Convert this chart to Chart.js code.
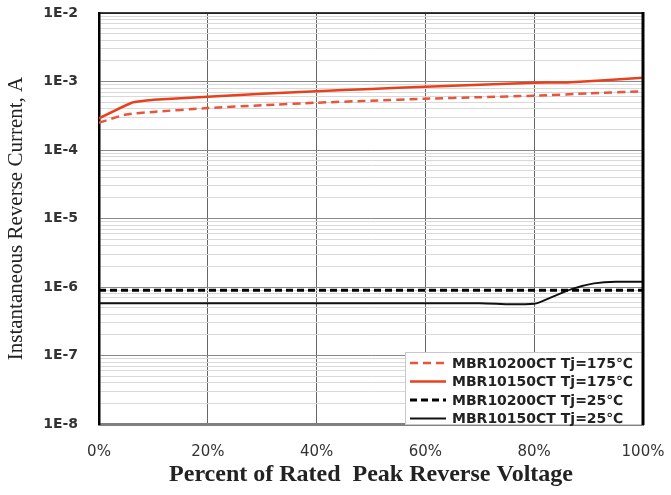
<!DOCTYPE html>
<html>
<head>
<meta charset="utf-8">
<script src="https://cdn.jsdelivr.net/npm/chart.js@4.4.0/dist/chart.umd.min.js"></script>
<style>
html,body{margin:0;padding:0;background:#fff}
</style>
</head>
<body>
<canvas id="c" width="671" height="495"></canvas>
<script>
// datos (x en % de la tension inversa nominal, y en A)
const nombres = ['MBR10200CT Tj=175℃', 'MBR10150CT Tj=175℃', 'MBR10200CT Tj=25℃', 'MBR10150CT Tj=25℃'];

const xRojoDash = [0, 5, 10, 20, 30, 40, 50, 60, 70, 80, 90, 100];
const yRojoDash = [2.5e-4, 3.3e-4, 3.6e-4, 4.1e-4, 4.5e-4, 4.9e-4, 5.25e-4, 5.6e-4, 5.9e-4, 6.2e-4, 6.7e-4, 7.2e-4];

const xRojo = [0, 6, 10, 20, 30, 40, 50, 60, 70, 80, 86, 100];
const yRojo = [2.9e-4, 4.9e-4, 5.4e-4, 6.0e-4, 6.6e-4, 7.2e-4, 7.8e-4, 8.4e-4, 9.0e-4, 9.6e-4, 9.7e-4, 1.13e-3];

const xNegroDash = [0, 100];
const yNegroDash = [9.0e-7, 9.0e-7];

const xNegro = [0, 70, 76, 80, 83, 87, 91, 95, 100];
const yNegro = [5.8e-7, 5.8e-7, 5.6e-7, 5.7e-7, 7.0e-7, 9.4e-7, 1.13e-6, 1.19e-6, 1.19e-6];

const xTicks = [0, 20, 40, 60, 80, 100];
const decadas = [-8, -7, -6, -5, -4, -3, -2];

function puntos(xs, ys){
  return xs.map((x, i) => ({x: x, y: ys[i]}));
}

// marcas del eje log: 1..9 por decada
function ticksLog(){
  const t = [];
  decadas.forEach(e => {
    const lim = e === -2 ? 1 : 9;
    for(let m = 1; m <= lim; m++) t.push({value: m * Math.pow(10, e)});
  });
  return t;
}

// leyenda en caja dentro del area del grafico (abajo a la derecha)
const leyendaCaja = {
  id: 'leyendaCaja',
  afterDatasetsDraw(chart){
    const {ctx, chartArea: a} = chart;
    ctx.save();
    const bx = a.right - 238, by = a.bottom - 72;
    ctx.fillStyle = '#fff';
    ctx.fillRect(bx, by, a.right - bx, a.bottom - by);
    ctx.strokeStyle = '#c8c8c8';
    ctx.lineWidth = 1;
    ctx.strokeRect(bx + 0.5, by + 0.5, a.right - bx, a.bottom - by);
    chart.data.datasets.forEach((ds, i) => {
      const y = by + 11 + i * 18.5;
      ctx.strokeStyle = ds.borderColor;
      ctx.lineWidth = ds.borderWidth;
      ctx.setLineDash(ds.borderDash || []);
      ctx.beginPath();
      ctx.moveTo(bx + 5, y);
      ctx.lineTo(bx + 41, y);
      ctx.stroke();
      ctx.setLineDash([]);
      ctx.fillStyle = '#222';
      ctx.font = 'bold 14px "DejaVu Sans", sans-serif';
      ctx.textBaseline = 'middle';
      ctx.fillText(ds.label, bx + 47, y + 1);
    });
    // borde superior y derecho del area
    ctx.strokeStyle = '#000';
    ctx.lineWidth = 1.5;
    ctx.beginPath();
    ctx.moveTo(a.left, a.top);
    ctx.lineTo(a.right, a.top);
    ctx.stroke();
    ctx.lineWidth = 3;
    ctx.beginPath();
    ctx.moveTo(a.right, a.top - 1);
    ctx.lineTo(a.right, a.bottom + 1);
    ctx.stroke();
    ctx.restore();
  }
};

const chart = new Chart(document.getElementById('c'), {
  type: 'line',
  data: {
    datasets: [
      {label: nombres[0], data: puntos(xRojoDash, yRojoDash), borderColor: '#e8553a', borderWidth: 2.5, borderDash: [8, 5], tension: 0.2},
      {label: nombres[1], data: puntos(xRojo, yRojo), borderColor: '#e8401c', borderWidth: 2.5, tension: 0.1},
      {label: nombres[2], data: puntos(xNegroDash, yNegroDash), borderColor: '#000', borderWidth: 3, borderDash: [7, 4]},
      {label: nombres[3], data: puntos(xNegro, yNegro), borderColor: '#111', borderWidth: 2, cubicInterpolationMode: 'monotone'}
    ]
  },
  options: {
    responsive: false,
    animation: false,
    elements: {point: {radius: 0}},
    layout: {padding: {left: 0, right: 28, top: 13, bottom: 0}},
    plugins: {legend: {display: false}, tooltip: {enabled: false}},
    scales: {
      x: {
        type: 'linear', min: 0, max: 100,
        afterBuildTicks: s => { s.ticks = xTicks.map(v => ({value: v})); },
        afterFit: s => { s.height = 71; s.paddingLeft = 0; s.paddingRight = 0; },
        grid: {color: '#666', lineWidth: 1, drawTicks: false},
        border: {color: '#808080', width: 3},
        ticks: {padding: 19, color: '#333', font: {family: '"DejaVu Sans", sans-serif', size: 15}, callback: v => v + '%'},
        title: {display: true, text: 'Percent of Rated  Peak Reverse Voltage', color: '#222', padding: {top: 0, bottom: 6}, font: {family: '"Liberation Serif", serif', size: 24, weight: 'bold'}}
      },
      y: {
        type: 'logarithmic', min: 1e-8, max: 1e-2,
        afterBuildTicks: s => { s.ticks = ticksLog(); },
        afterFit: s => { s.width = 99; s.paddingTop = 0; s.paddingBottom = 0; },
        grid: {drawTicks: false, color: c => (c.index % 9 === 0 ? '#8a8a8a' : '#d9d9d9'), lineWidth: 1},
        border: {color: '#000', width: 2.5},
        ticks: {autoSkip: false, padding: 21, color: '#333', font: {family: '"DejaVu Sans", sans-serif', size: 14, weight: 'bold'},
          callback: (v, i) => (i % 9 === 0 ? '1E' + decadas[i / 9] : '')},
        title: {display: true, text: 'Instantaneous Reverse Current, A', color: '#222', padding: {top: 4, bottom: 0}, font: {family: '"Liberation Serif", serif', size: 21}}
      }
    }
  },
  plugins: [leyendaCaja]
});
</script>
</body>
</html>
